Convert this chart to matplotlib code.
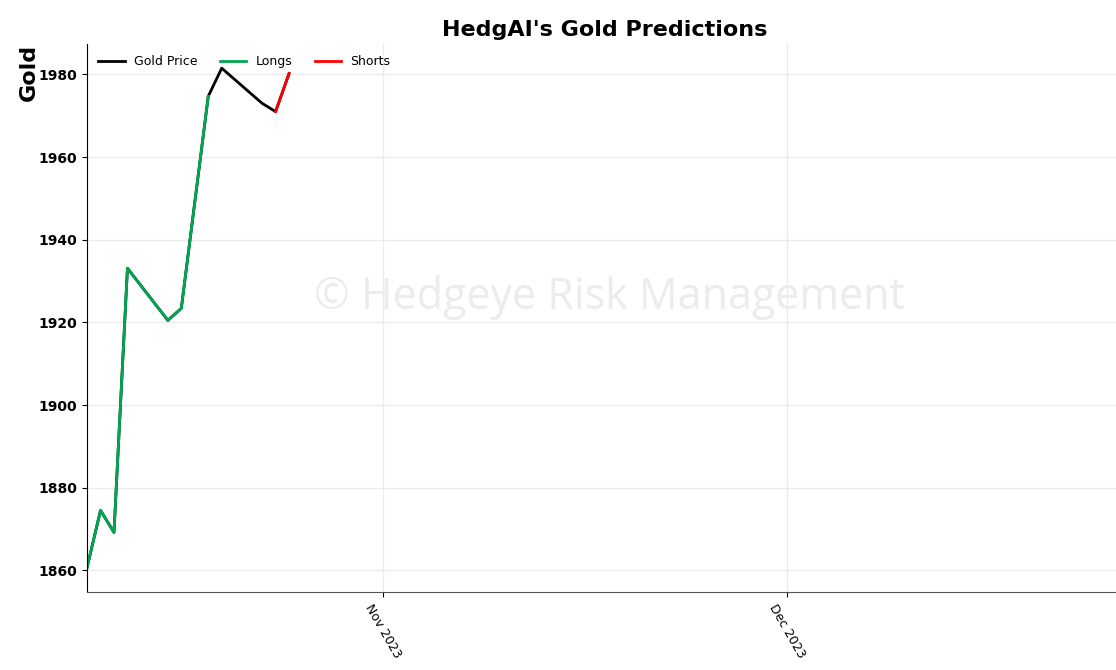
import numpy as np
import pandas as pd
import matplotlib
matplotlib.use('Agg')
import matplotlib.pyplot as plt
import matplotlib.dates as mdates

# Gold closes
dates = pd.to_datetime(['2023-10-10', '2023-10-11', '2023-10-12', '2023-10-13',
                        '2023-10-16', '2023-10-17', '2023-10-19', '2023-10-20',
                        '2023-10-23', '2023-10-24', '2023-10-25'])
prices = [1860.7, 1874.5, 1869.2, 1933.1, 1920.5, 1923.4, 1974.7, 1981.5,
          1973.0, 1971.0, 1980.2]
# signal on the segment starting at each point: 'L' long, 'S' short, '' none
signals = ['L', 'L', 'L', 'L', 'L', 'L', '', '', '', 'S', '']

prices = np.array(prices)
long_mask = np.zeros(len(prices), bool)
short_mask = np.zeros(len(prices), bool)
for i, s in enumerate(signals[:-1]):
    if s == 'L':
        long_mask[i] = long_mask[i + 1] = True
    elif s == 'S':
        short_mask[i] = short_mask[i + 1] = True

fig = plt.figure(figsize=(11.16, 6.70), dpi=100)
ax = fig.add_axes([0.078, 0.116, 0.94, 0.818])

ax.plot(dates, prices, color='black', lw=2, label='Gold Price')
ax.plot(dates, np.where(long_mask, prices, np.nan), color='#00a651', lw=2, label='Longs')
ax.plot(dates, np.where(short_mask, prices, np.nan), color='#ff0000', lw=2, label='Shorts')

ax.set_xlim(pd.Timestamp('2023-10-10'), pd.Timestamp('2023-10-10') + pd.Timedelta(days=77.9))
ax.set_ylim(1854.7, 1987.3)
ax.set_yticks([1860, 1880, 1900, 1920, 1940, 1960, 1980])
ax.xaxis.set_major_locator(mdates.MonthLocator())
ax.xaxis.set_major_formatter(mdates.DateFormatter('%b %Y'))
plt.setp(ax.get_xticklabels(), rotation=-60, fontsize=9)
plt.setp(ax.get_yticklabels(), fontweight='bold')

ax.spines['top'].set_visible(False)
ax.spines['right'].set_visible(False)
ax.spines['bottom'].set_color('#555555')
ax.grid(color='#ebebeb', lw=1)
ax.set_axisbelow(True)

ax.set_title("HedgAI's Gold Predictions", fontsize=16, fontweight='bold', x=0.493)
ax.set_ylabel('Gold', fontsize=16, fontweight='bold', loc='top')
ax.yaxis.set_label_coords(-0.0455, 1.0)

ax.legend(loc='upper left', ncol=3, frameon=False, fontsize=9, handlelength=2.1,
          handletextpad=0.75, columnspacing=1.8, bbox_to_anchor=(0.0, 1.0))

fig.text(0.546, 0.556, '\u00a9 Hedgeye Risk Management', fontsize=31,
         family='Open Sans', color='#ececec', ha='center', va='center', zorder=0)

fig.savefig('out.png', dpi=100)
